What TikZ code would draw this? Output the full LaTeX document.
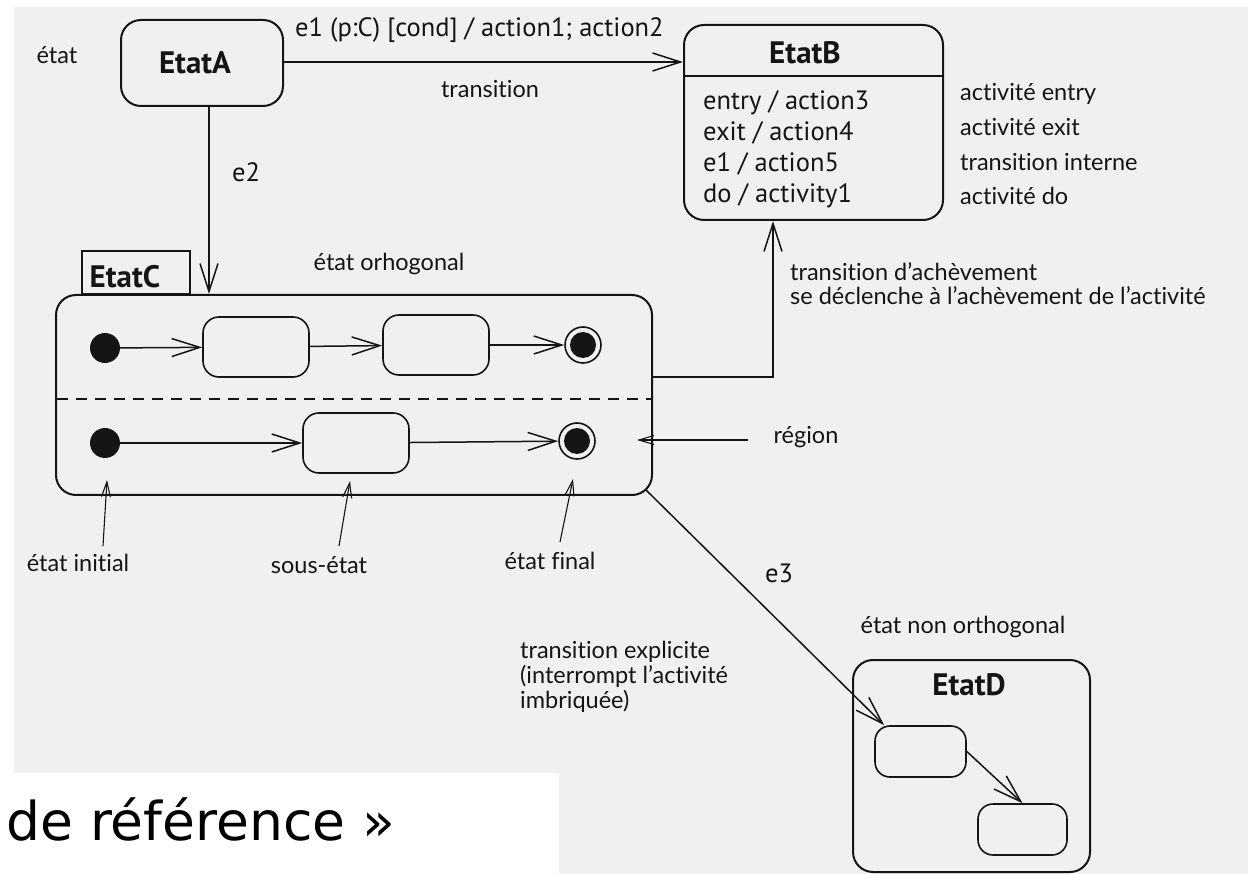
\documentclass[tikz,border=0pt]{standalone}
\usepackage{fontspec}
\setmainfont{PT Sans}
\newfontfamily\annotfont{Lato}[Ligatures=NoCommon]
\newfontfamily\reffont{DejaVu Sans}
\usetikzlibrary{arrows.meta,calc}
\definecolor{paper}{HTML}{F0F0F0}
\definecolor{ink}{HTML}{151515}
\begin{document}
\begin{tikzpicture}[x=1pt,y=-1pt,
  state/.style={draw=ink, line width=2pt, rounded corners=20pt, inner sep=0pt},
  sub/.style={draw=ink, line width=1.6pt, rounded corners=16pt, minimum width=106pt, minimum height=60pt, inner sep=0pt},
  init/.style={circle, fill=ink, minimum size=30pt, inner sep=0pt},
  fin/.style={circle, draw=ink, line width=1.6pt, minimum size=36pt, inner sep=0pt,
    path picture={\fill[ink] (path picture bounding box.center) circle (13pt);}},
  trans/.style={draw=ink, line width=1.5pt, -{Straight Barb[length=28pt,width=18pt]}},
  note/.style={draw=ink, line width=1.1pt, -{Straight Barb[length=15pt,width=9pt]}},
  lbl/.style={font=\fontsize{26.5}{30}\selectfont, text=ink, inner sep=0pt, text height=19pt, text depth=6pt},
  ttl/.style={font=\bfseries\fontsize{31}{35}\selectfont, text=ink, inner sep=0pt},
  ann/.style={font=\annotfont\fontsize{23.5}{27}\selectfont, text=ink, inner sep=0pt, text height=17pt, text depth=5pt},
]
\useasboundingbox (0,0) rectangle (1251,874);
\fill[paper] (14,7) rectangle (1248,874);
\fill[white] (0,773) rectangle (559,874);

% EtatA
\node[state, minimum width=162pt, minimum height=86pt] (A) at (202,63) {};
\node[ttl] (Atitle) at (195,63) {EtatA};
\node[ann] (etat) at (57,58) {état};

% EtatB
\node[state, minimum width=259pt, minimum height=195pt] (B) at (813.5,122.5) {};
\draw[ink, line width=1.6pt] ([yshift=-52pt]B.north west) -- ([yshift=-52pt]B.north east);
\node[ttl] (Btitle) at (805,53) {EtatB};
\node[lbl, anchor=base west] (b1) at (703,110) {entry / action3};
\node[lbl, anchor=base west] (b2) at (703,141) {exit / action4};
\node[lbl, anchor=base west] (b3) at (703,172) {e1 / action5};
\node[lbl, anchor=base west] (b4) at (703,203) {do / activity1};
\node[ann, anchor=west] (n1) at (960,95) {activité entry};
\node[ann, anchor=west] (n2) at (960,130) {activité exit};
\node[ann, anchor=west] (n3) at (960,165) {transition interne};
\node[ann, anchor=west] (n4) at (960,199) {activité do};

% transition A -> B
\draw[trans] (A.east |- 0,62) -- (B.west |- 0,62);
\node[lbl, anchor=west] (e1) at (295,30) {e1 (p:C) [cond] / action1; action2};
\node[ann] (tr) at (490,92) {transition};

% EtatC
\node[state, minimum width=596pt, minimum height=200pt] (C) at (354,395) {};
\node[draw=ink, line width=1.6pt, minimum width=108pt, minimum height=43pt, inner sep=0pt, anchor=south west] (Ctab) at (81,295) {};
\node[ttl] (Ctitle) at (125,277) {EtatC};
\node[ann] (orth) at (389,265) {état orhogonal};
\coordinate (dl) at (0,399);
\draw[ink, line width=1.4pt, dash pattern=on 11pt off 8pt] ([xshift=2pt]C.west |- dl) -- ([xshift=-2pt]C.east |- dl);

% e2
\draw[trans] ([xshift=7pt]A.south) -- ([xshift=7pt]A.south |- C.north);
\node[lbl] (e2) at (246,175) {e2};

% top region
\node[init] (i1) at (105,348) {};
\node[sub] (s1) at (256,347) {};
\node[sub] (s2) at (436,345) {};
\node[fin] (f1) at (583,345) {};
\draw[trans] (i1) -- (s1);
\draw[trans] (s1) -- (s2);
\draw[trans] (s2) -- (f1);

% bottom region
\node[init] (i2) at (105,443) {};
\node[sub] (s3) at (356,443) {};
\node[fin] (f2) at (577,441) {};
\draw[trans] (i2) -- (s3);
\draw[trans] (s3) -- (f2);

% completion transition
\coordinate (k) at (773,377);
\draw[trans] (C.east |- k) -- (k) -- (k |- B.south);
\node[ann, anchor=west] (c1) at (790,275) {transition d’achèvement};
\node[ann, anchor=west] (c2) at (790,299) {se déclenche à l’achèvement de l’activité};

% region
\node[ann] (region) at (806,438) {région};
\coordinate (rtail) at (748,440);
\coordinate (rtip) at (637,440);
\draw[note] (rtail) -- (rtip);

% annotations below
\node[ann] (ti) at (78,565) {état initial};
\coordinate (tiA) at (103,546); \coordinate (tiB) at (107,480);
\draw[note] (tiA) -- (tiB);
\node[ann] (se) at (319,567) {sous-état};
\coordinate (seA) at (339,546); \coordinate (seB) at (350,481);
\draw[note] (seA) -- (seB);
\node[ann] (tf) at (550,563) {état final};
\coordinate (tfA) at (560,542); \coordinate (tfB) at (573,479);
\draw[note] (tfA) -- (tfB);

% EtatD
\node[state, minimum width=237pt, minimum height=212pt] (D) at (971.5,766) {};
\node[ttl] (Dtitle) at (969,685) {EtatD};
\node[ann] (nonorth) at (963,627) {état non orthogonal};
\node[sub, minimum width=91pt, minimum height=51pt, rounded corners=15pt] (s4) at (920.5,751.5) {};
\node[sub, minimum width=89pt, minimum height=51pt, rounded corners=15pt] (s5) at (1022.5,829.5) {};
\draw[trans] (s4.east) -- (s5.north);

% e3
\coordinate (e3s) at (646,490);
\draw[trans] (e3s) -- ([xshift=10pt]s4.north west);
\node[lbl] (e3) at (779,576) {e3};
\node[ann, anchor=west] (x1) at (520,652) {transition explicite};
\node[ann, anchor=west] (x2) at (520,677) {(interrompt l’activité};
\node[ann, anchor=west] (x3) at (520,702) {imbriquée)};

% caption fragment
\node[font=\reffont\fontsize{53.5}{60}\selectfont, text=black, anchor=base west, inner sep=0pt] (ref) at (6,840) {de référence »};
\end{tikzpicture}
\end{document}
